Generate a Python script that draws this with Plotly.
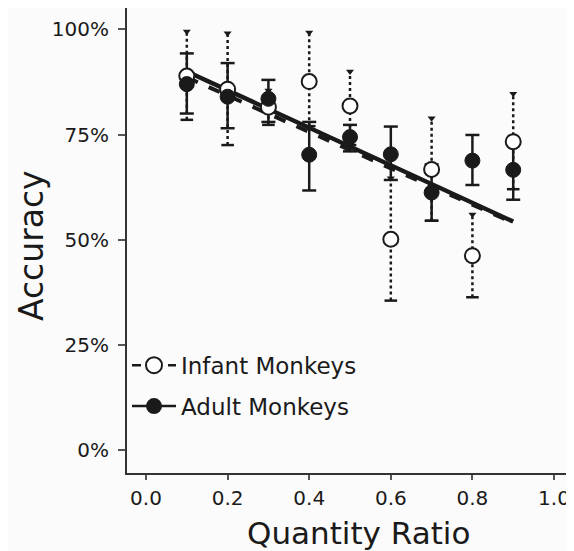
import plotly.graph_objects as go

# ---- data ----
ratio = [0.1, 0.2, 0.3, 0.4, 0.5, 0.6, 0.7, 0.8, 0.9]

infant = [88.9, 85.8, 81.5, 87.6, 81.8, 50.1, 66.7, 46.2, 73.3]
infant_upper = [99.5, 99.1, 85.5, 99.3, 90.0, 64.6, 78.9, 56.0, 84.7]
infant_lower = [78.5, 72.5, 77.3, 77.0, 72.5, 35.5, 54.5, 36.3, 62.0]

adult = [87.0, 84.0, 83.5, 70.2, 74.4, 70.3, 61.2, 68.8, 66.6]
adult_upper = [94.3, 92.0, 88.0, 78.0, 77.3, 76.9, 67.9, 74.9, 73.5]
adult_lower = [80.0, 76.5, 78.0, 61.7, 71.0, 64.2, 54.5, 63.0, 59.5]

fit_x = [0.1, 0.9]
adult_fit = [90.0, 54.3]
infant_fit = [88.6, 54.0]

y_ticks = [0, 25, 50, 75, 100]
y_labels = ["0%", "25%", "50%", "75%", "100%"]
x_ticks = [0.0, 0.2, 0.4, 0.6, 0.8, 1.0]
x_labels = ["0.0", "0.2", "0.4", "0.6", "0.8", "1.0"]

FONT = "DejaVu Sans, Verdana, sans-serif"
INK = "#1a1a1a"


def segments(xs, lo, hi):
    sx, sy = [], []
    for x, a, b in zip(xs, lo, hi):
        sx += [x, x, None]
        sy += [a, b, None]
    return sx, sy


fig = go.Figure()

# fit lines
fig.add_trace(go.Scatter(x=fit_x, y=infant_fit, mode="lines",
                         line=dict(color=INK, width=4, dash="dash"),
                         showlegend=False, hoverinfo="skip"))
fig.add_trace(go.Scatter(x=fit_x, y=adult_fit, mode="lines",
                         line=dict(color=INK, width=4.5),
                         showlegend=False, hoverinfo="skip"))

# infant error bars (dotted)
ix, iy = segments(ratio, infant_lower, infant_upper)
fig.add_trace(go.Scatter(x=ix, y=iy, mode="lines",
                         line=dict(color=INK, width=2.5, dash="dot"),
                         showlegend=False, hoverinfo="skip"))
fig.add_trace(go.Scatter(x=ratio, y=infant_upper, mode="markers",
                         marker=dict(symbol="triangle-down", size=7, color=INK),
                         showlegend=False, hoverinfo="skip"))
fig.add_trace(go.Scatter(x=ratio, y=infant_lower, mode="markers",
                         marker=dict(symbol="line-ew-open", size=9, color=INK,
                                     line=dict(color=INK, width=2.5)),
                         showlegend=False, hoverinfo="skip"))

# adult error bars (solid)
ax_, ay_ = segments(ratio, adult_lower, adult_upper)
fig.add_trace(go.Scatter(x=ax_, y=ay_, mode="lines",
                         line=dict(color=INK, width=2.5),
                         showlegend=False, hoverinfo="skip"))
fig.add_trace(go.Scatter(x=ratio + ratio, y=adult_upper + adult_lower, mode="markers",
                         marker=dict(symbol="line-ew-open", size=10, color=INK,
                                     line=dict(color=INK, width=2.5)),
                         showlegend=False, hoverinfo="skip"))

# points
fig.add_trace(go.Scatter(x=ratio, y=infant, mode="markers",
                         marker=dict(symbol="circle", size=15, color="white",
                                     line=dict(color=INK, width=2)),
                         showlegend=False, name="Infant Monkeys"))
fig.add_trace(go.Scatter(x=ratio, y=adult, mode="markers",
                         marker=dict(symbol="circle", size=15, color=INK,
                                     line=dict(color=INK, width=1)),
                         showlegend=False, name="Adult Monkeys"))

# legend entries
fig.add_trace(go.Scatter(x=[None], y=[None], mode="lines+markers",
                         name="Infant Monkeys", legendgroup="a",
                         line=dict(color=INK, width=2.5, dash="dash"),
                         marker=dict(symbol="circle", size=16, color="white",
                                     line=dict(color=INK, width=2))))
fig.add_trace(go.Scatter(x=[None], y=[None], mode="lines+markers",
                         name="Adult Monkeys", legendgroup="b",
                         line=dict(color=INK, width=2.5),
                         marker=dict(symbol="circle", size=16, color=INK)))

# page body has an 8px margin, so the figure is 8px smaller and shifted
fig.update_layout(
    width=566, height=543,
    margin=dict(l=119, r=0, t=0, b=78, autoexpand=False),
    paper_bgcolor="#fbfbfb", plot_bgcolor="#fbfbfb",
    font=dict(family=FONT, color=INK),
    showlegend=True,
    legend=dict(x=0.0, y=0.278, xanchor="left", yanchor="top",
                bgcolor="rgba(0,0,0,0)", font=dict(size=23, family=FONT, color=INK),
                tracegroupgap=8, itemwidth=44),
    annotations=[
        dict(text="Accuracy", x=-0.215, y=0.49, xref="paper", yref="paper",
             textangle=-90, showarrow=False, font=dict(size=33, family=FONT, color=INK),
             xanchor="center", yanchor="middle"),
        dict(text="Quantity Ratio", x=0.518, y=-0.13, xref="paper", yref="paper",
             showarrow=False, font=dict(size=31, family=FONT, color=INK),
             xanchor="center", yanchor="middle"),
    ],
)

fig.update_xaxes(range=[-0.0466, 1.049], tickmode="array", tickvals=x_ticks,
                 ticktext=x_labels, automargin=False,
                 showgrid=False, zeroline=False, showline=True,
                 linecolor="#333", linewidth=2, ticks="outside", ticklen=5,
                 tickcolor="#555", tickwidth=1.5,
                 tickfont=dict(size=20, family=FONT, color=INK),
                 ticklabelstandoff=1)
fig.update_yaxes(range=[-5.5, 105.1], tickmode="array", tickvals=y_ticks,
                 ticktext=y_labels, automargin=False,
                 showgrid=False, zeroline=False, showline=True,
                 linecolor="#333", linewidth=2, ticks="outside", ticklen=7,
                 tickcolor="#555", tickwidth=1.5,
                 tickfont=dict(size=20, family=FONT, color=INK),
                 ticklabelstandoff=5)

fig.write_html("out.html")
